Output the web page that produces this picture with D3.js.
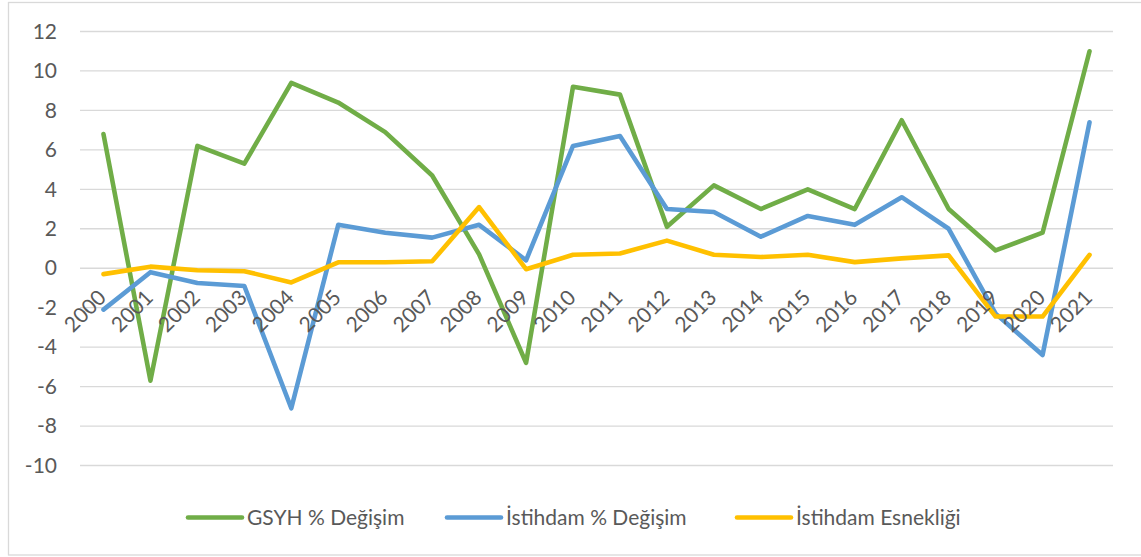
<!DOCTYPE html>
<html>
<head>
<meta charset="utf-8">
<script src="https://cdn.jsdelivr.net/npm/d3@7"></script>
<style>
  html, body { margin: 0; padding: 0; background: #fff; }
  svg { display: block; }
  text { font-family: Lato, "Open Sans", sans-serif; fill: #595959; }
</style>
</head>
<body>
<svg id="chart" width="1141" height="557"></svg>
<script>
const years = ["2000","2001","2002","2003","2004","2005","2006","2007","2008","2009","2010",
               "2011","2012","2013","2014","2015","2016","2017","2018","2019","2020","2021"];
const gsyh = [6.8, -5.7, 6.2, 5.3, 9.4, 8.4, 6.9, 4.7, 0.7, -4.8, 9.2,
              8.8, 2.1, 4.2, 3.0, 4.0, 3.0, 7.5, 3.0, 0.9, 1.8, 11.0];
const istihdam = [-2.1, -0.2, -0.75, -0.9, -7.1, 2.2, 1.8, 1.55, 2.2, 0.4, 6.2,
                  6.7, 3.0, 2.85, 1.6, 2.65, 2.2, 3.6, 2.0, -2.3, -4.4, 7.4];
const esneklik = [-0.3, 0.08, -0.1, -0.15, -0.72, 0.3, 0.3, 0.35, 3.1, -0.05, 0.68,
                  0.75, 1.4, 0.68, 0.57, 0.68, 0.31, 0.5, 0.65, -2.45, -2.45, 0.68];
const yTicks = [-10, -8, -6, -4, -2, 0, 2, 4, 6, 8, 10, 12];
const seriesNames = ["GSYH % Değişim", "İstihdam % Değişim", "İstihdam Esnekliği"];
const seriesColors = ["#70AD47", "#5B9BD5", "#FFC000"];

const series = [gsyh, istihdam, esneklik];
const svg = d3.select("#chart");

// chart border
svg.append("rect").attr("x", 8.5).attr("y", 2.5).attr("width", 1150).attr("height", 552.5)
  .attr("fill", "none").attr("stroke", "#D9D9D9").attr("stroke-width", 1.3);

const x = d3.scalePoint().domain(years).range([80, 1113]).padding(0.5);
const y = d3.scaleLinear().domain([-10, 12]).range([465.5, 31.5]);

// gridlines
svg.append("g").selectAll("line").data(yTicks).join("line")
  .attr("x1", 80).attr("x2", 1113)
  .attr("y1", d => y(d)).attr("y2", d => y(d))
  .attr("stroke", "#D9D9D9").attr("stroke-width", 1.3);

// y axis labels
const yAxis = d3.axisLeft(y).tickValues(yTicks).tickSize(0).tickPadding(0)
  .tickFormat(d => String(d));
const gy = svg.append("g").attr("transform", "translate(57,0)").call(yAxis);
gy.select(".domain").remove();
gy.selectAll("text").attr("font-size", 21).attr("fill", "#595959")
  .style("font-family", "Lato, 'Open Sans', sans-serif");

// lines
const line = d3.line().x((d, i) => x(years[i])).y(d => y(d));
series.forEach((s, k) => {
  svg.append("path").datum(s).attr("d", line)
    .attr("fill", "none").attr("stroke", seriesColors[k]).attr("stroke-width", 4.6)
    .attr("stroke-linejoin", "round").attr("stroke-linecap", "round");
});

// x axis labels (rotated)
const xAxis = d3.axisBottom(x).tickSize(0).tickPadding(0);
const gx = svg.append("g").call(xAxis);
gx.select(".domain").remove();
gx.selectAll(".tick").attr("transform", d => `translate(${x(d) + 4},299)`);
gx.selectAll("text")
  .attr("y", 0).attr("dy", 0).attr("x", 0)
  .attr("text-anchor", "end")
  .attr("transform", "rotate(-45)")
  .attr("font-size", 21).attr("fill", "#595959")
  .style("font-family", "Lato, 'Open Sans', sans-serif");

// legend
const legendX = [188, 447, 737];
const lg = svg.append("g");
seriesNames.forEach((n, k) => {
  lg.append("line").attr("x1", legendX[k]).attr("x2", legendX[k] + 54)
    .attr("y1", 517.5).attr("y2", 517.5)
    .attr("stroke", seriesColors[k]).attr("stroke-width", 4.6).attr("stroke-linecap", "round");
  lg.append("text").attr("x", legendX[k] + 59).attr("y", 518).attr("dy", "0.35em")
    .attr("font-size", 21).text(n);
});
</script>
</body>
</html>
